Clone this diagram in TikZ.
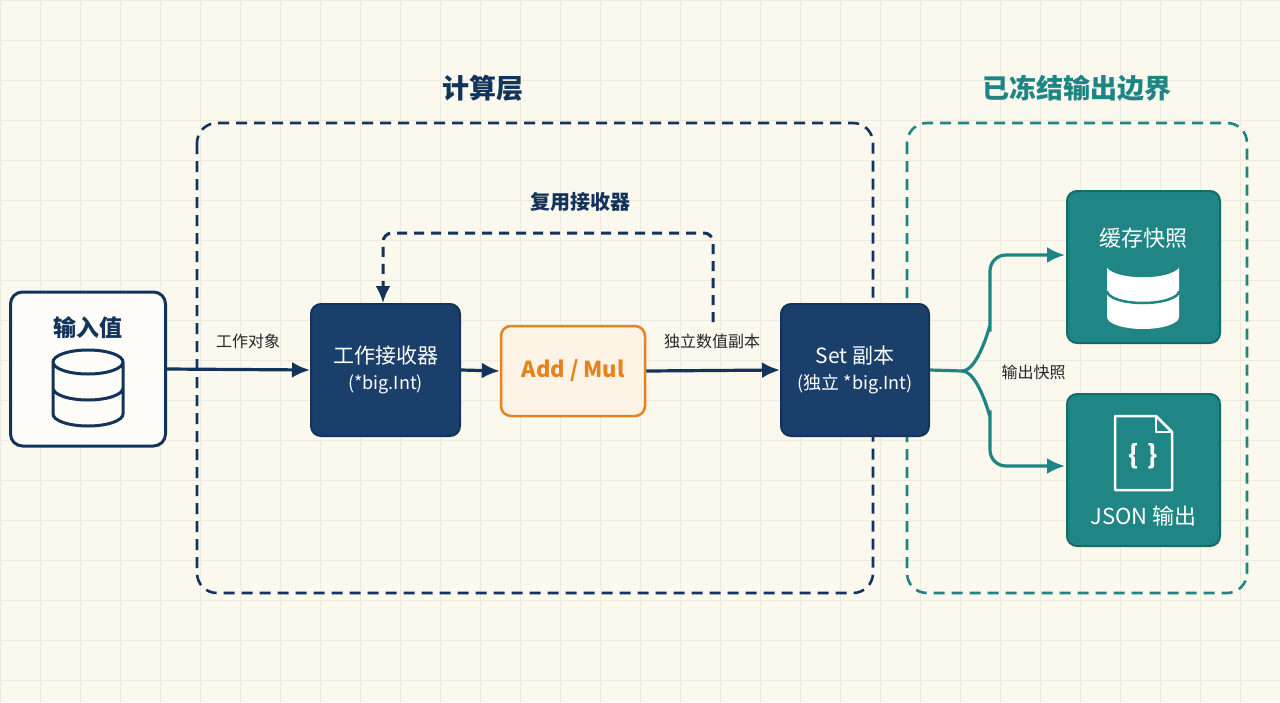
\documentclass[tikz,border=0pt]{standalone}
\usepackage{fontspec}
\setmainfont{Noto Sans CJK SC}
\usetikzlibrary{arrows.meta}
\usetikzlibrary{positioning}

\definecolor{bgcream}{HTML}{FBF8EE}
\definecolor{gridline}{HTML}{EDEADF}
\definecolor{navy}{HTML}{1B3F6B}
\definecolor{navydark}{HTML}{12345C}
\definecolor{orangeline}{HTML}{E8821E}
\definecolor{orangefill}{HTML}{FDF3E6}
\definecolor{tealline}{HTML}{1E8585}
\definecolor{tealfill}{HTML}{1F8585}

\tikzset{
  navybox/.style={draw=navydark, line width=2pt, fill=navy, rounded corners=10pt, text=white, align=center, font=\fontsize{21}{30}\selectfont},
  tealbox/.style={draw=tealline!80!black, line width=2pt, fill=tealfill, rounded corners=10pt, minimum width=153pt, minimum height=152pt},
  frame/.style={dash pattern={on 11pt off 7pt}, line width=2.6pt, rounded corners=20pt},
  flow/.style={line width=3.2pt, -{Latex[length=18pt,width=16pt]}},
  lbl/.style={font=\fontsize{16}{18}\selectfont, text=black!85},
  db/.pic={
    \draw[line width=3pt, pic actions] (-35,-27) arc[start angle=180,end angle=0,x radius=35,y radius=12]
      (-35,-1) arc[start angle=180,end angle=0,x radius=35,y radius=12]
      (-35,25) arc[start angle=180,end angle=0,x radius=35,y radius=12]
      (-35,-27) -- (-35,25) (35,-27) -- (35,25)
      (0,-27) ellipse[x radius=35,y radius=12];
  },
  dbsolid/.pic={
    \fill[white] (-36,-27) -- (-36,26) arc[start angle=180,end angle=0,x radius=36,y radius=12] -- (36,-27) arc[start angle=0,end angle=180,x radius=36,y radius=12] -- cycle;
    \draw[tealfill, line width=2.5pt] (-36,-27) arc[start angle=180,end angle=0,x radius=36,y radius=12]
      (-36,0) arc[start angle=180,end angle=0,x radius=36,y radius=12];
  }
}

\begin{document}
\begin{tikzpicture}[x=1pt,y=-1pt]
\useasboundingbox (0,0) rectangle (1280,702);
\fill[bgcream] (0,0) rectangle (1280,702);
\foreach \gx in {0,40,...,1280} \draw[gridline, line width=0.8pt] (\gx,0) -- (\gx,702);
\foreach \gy in {0,40,...,702} \draw[gridline, line width=0.8pt] (0,\gy) -- (1280,\gy);

% frames and titles
\draw[frame, navydark] (197,123) rectangle (873,593);
\draw[frame, tealline] (907,123) rectangle (1247,593);
\node[font=\fontsize{27}{30}\selectfont\bfseries, text=navydark] (calcTitle) at (483,88) {计算层};
\node[font=\fontsize{27}{30}\selectfont\bfseries, text=tealline] (frozenTitle) at (1077,88) {已冻结输出边界};

% input value
\node[draw=navydark, line width=3pt, fill=white!60!bgcream, rounded corners=12pt, minimum width=155pt, minimum height=154pt] (input) at (88,369) {};
\node[font=\fontsize{23}{26}\selectfont\bfseries, text=navydark] (inputText) at (88,328) {输入值};
\pic[draw=navydark] at (88,389) {db};

% compute nodes
\node[navybox, minimum width=149pt, minimum height=132pt] (worker) at (385.5,370) {工作接收器\\[-4pt]{\fontsize{18}{20}\selectfont(*big.Int)}};
\node[draw=orangeline, line width=2.5pt, fill=orangefill, rounded corners=10pt, minimum width=144pt, minimum height=90pt, text=orangeline, font=\fontsize{22}{24}\selectfont\bfseries] (addmul) at (573,371) {Add / Mul};
\node[navybox, minimum width=148pt, minimum height=132pt] (setcopy) at (855,370) {Set 副本\\[-4pt]{\fontsize{18}{20}\selectfont(独立 *big.Int)}};

% output nodes
\node[tealbox] (cache) at (1143.5,267) {};
\node[font=\fontsize{22}{24}\selectfont, text=white] (cacheText) at (1143.5,238) {缓存快照};
\pic at (1143,291) {dbsolid};
\node[tealbox] (json) at (1143.5,470) {};
\draw[white, line width=2.5pt, line join=round] (1115,416) -- (1156,416) -- (1172,432) -- (1172,490) -- (1115,490) -- cycle;
\draw[white, line width=2.5pt, line join=round] (1156,416) -- (1156,432) -- (1172,432);
\node[font=\fontsize{26}{26}\selectfont\bfseries, text=white] (braces) at (1143.5,456) {\{\,\,\}};
\node[font=\fontsize{22}{24}\selectfont, text=white] (jsonText) at (1143.5,516) {JSON 输出};

% main flow
\draw[flow, navydark] (input.east) -- (worker.west);
\node[lbl] (workObj) at (248,341) {工作对象};
\draw[flow, navydark] (worker.east) -- (addmul.west);
\draw[flow, navydark] (addmul.east) -- (setcopy.west);
\node[lbl] (indepCopy) at (712,341) {独立数值副本};

% reuse loop
\coordinate (tap) at (713,322);
\coordinate (loopTop) at (713,233);
\draw[navydark, line width=3pt, dash pattern={on 10pt off 7pt}, rounded corners=9pt, -{Latex[length=17pt,width=15pt]}] (tap) -- (loopTop) -| (worker.north -| 383,0);
\node[font=\fontsize{20}{22}\selectfont\bfseries, text=navydark] (reuseText) at (580,202) {复用接收器};

% fork to outputs
\coordinate (fork) at (962,371);
\coordinate (upA) at (990,341);
\coordinate (downA) at (990,401);
\draw[tealline, line width=3.2pt] (setcopy.east) -- (fork);
\draw[flow, tealline, rounded corners=16pt] (fork) to[out=0,in=90] (upA) -- (990,255) -- (1065,255);
\draw[flow, tealline, rounded corners=16pt] (fork) to[out=0,in=-90] (downA) -- (990,466) -- (1065,466);
\node[lbl, anchor=west] (outSnap) at (998,372) {输出快照};
\end{tikzpicture}
\end{document}
